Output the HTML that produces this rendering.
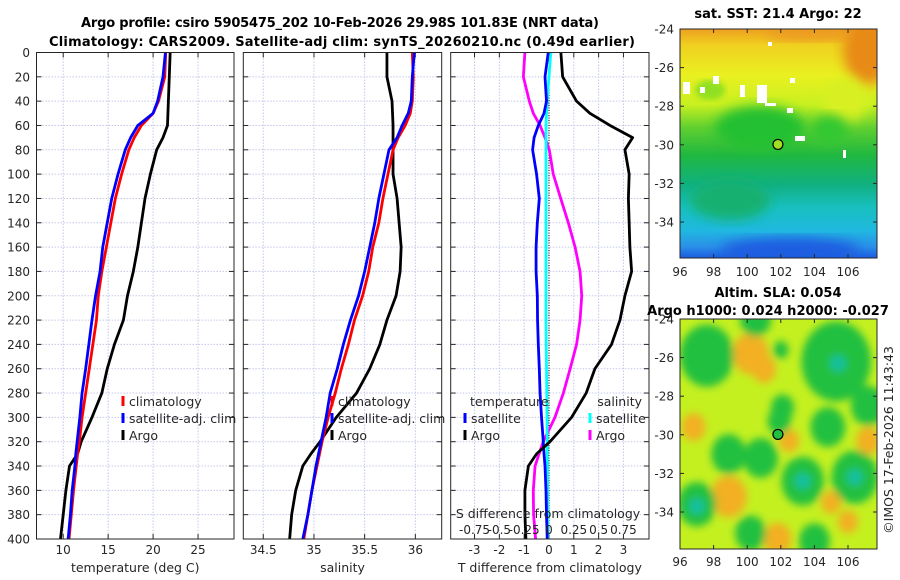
<!DOCTYPE html>
<html><head><meta charset="utf-8"><style>
html,body{margin:0;padding:0;background:#fff;}
svg{display:block;font-family:"DejaVu Sans","Liberation Sans",sans-serif;}
text{fill:#262626;}
</style></head><body>
<svg id="fig" width="900" height="580" viewBox="0 0 900 580" xmlns="http://www.w3.org/2000/svg">
<defs>
<filter id="blur6" x="-20%" y="-20%" width="140%" height="140%"><feGaussianBlur stdDeviation="6"/></filter>
<filter id="blur4" x="-20%" y="-20%" width="140%" height="140%"><feGaussianBlur stdDeviation="4"/></filter>
<filter id="blur3"><feGaussianBlur stdDeviation="3"/></filter>
<clipPath id="clipTop"><rect x="680" y="29" width="197" height="229"/></clipPath>
<clipPath id="clipBot"><rect x="680" y="319" width="197" height="230"/></clipPath>
<linearGradient id="sstGrad" x1="0" y1="0" x2="0" y2="1">
<stop offset="0" stop-color="#eea020"/>
<stop offset="0.07" stop-color="#f0d020"/>
<stop offset="0.2" stop-color="#eaf020"/>
<stop offset="0.33" stop-color="#c8f020"/>
<stop offset="0.43" stop-color="#60d030"/>
<stop offset="0.55" stop-color="#20b840"/>
<stop offset="0.68" stop-color="#10b080"/>
<stop offset="0.78" stop-color="#18c0c0"/>
<stop offset="0.88" stop-color="#20b8e0"/>
<stop offset="0.95" stop-color="#2a90e8"/>
<stop offset="1" stop-color="#1c5ce0"/>
</linearGradient>
</defs>
<g font-weight="bold" font-size="13">
<text x="340" y="27" text-anchor="middle" textLength="518" style="fill:#000">Argo profile: csiro 5905475_202 10-Feb-2026 29.98S 101.83E (NRT data)</text>
<text x="342" y="46" text-anchor="middle" textLength="586" style="fill:#000">Climatology: CARS2009. Satellite-adj clim: synTS_20260210.nc (0.49d earlier)</text>
</g>
<g id="panels"></g>
<g id="maps">
<text x="778" y="18" text-anchor="middle" font-weight="bold" font-size="13" style="fill:#000">sat. SST: 21.4 Argo: 22</text>
<g clip-path="url(#clipTop)">
<rect x="680" y="29" width="197" height="229" fill="url(#sstGrad)"/>
<ellipse cx="868" cy="50" rx="25" ry="35" fill="#e88a18" filter="url(#blur6)"/>
<ellipse cx="810" cy="33" rx="45" ry="7" fill="#ec9a20" filter="url(#blur6)"/>
<ellipse cx="845" cy="100" rx="22" ry="22" fill="#d8f020" filter="url(#blur6)"/>
<ellipse cx="760" cy="128" rx="45" ry="22" fill="#20c030" filter="url(#blur6)"/>
<ellipse cx="830" cy="130" rx="18" ry="15" fill="#30c830" filter="url(#blur6)"/>
<ellipse cx="710" cy="90" rx="15" ry="10" fill="#90e020" filter="url(#blur3)"/>
<ellipse cx="790" cy="250" rx="70" ry="12" fill="#1c5ce0" filter="url(#blur6)"/>
<ellipse cx="730" cy="200" rx="40" ry="20" fill="#18b070" filter="url(#blur6)"/>
<rect x="683" y="82" width="7" height="12" fill="#fff"/><rect x="700" y="87" width="5" height="6" fill="#fff"/>
<rect x="713" y="76" width="6" height="8" fill="#fff"/><rect x="740" y="85" width="5" height="12" fill="#fff"/>
<rect x="757" y="85" width="10" height="18" fill="#fff"/><rect x="765" y="103" width="11" height="3" fill="#fff"/>
<rect x="787" y="108" width="6" height="5" fill="#fff"/><rect x="795" y="136" width="10" height="5" fill="#fff"/>
<rect x="768" y="42" width="4" height="4" fill="#fff"/><rect x="790" y="78" width="5" height="5" fill="#fff"/>
<rect x="843" y="150" width="3" height="8" fill="#fff"/>
</g>
<rect x="680" y="29" width="197" height="229" fill="none" stroke="#262626" stroke-width="1"/>
<text x="778" y="297" text-anchor="middle" font-weight="bold" font-size="13" style="fill:#000">Altim. SLA: 0.054</text>
<text x="768" y="315" text-anchor="middle" font-weight="bold" font-size="13" style="fill:#000">Argo h1000: 0.024 h2000: -0.027</text>
<g clip-path="url(#clipBot)">
<rect x="680" y="319" width="197" height="230" fill="#c4f020"/>
<g id="slaBlobs" filter="url(#blur4)"></g>
</g>
<rect x="680" y="319" width="197" height="230" fill="none" stroke="#262626" stroke-width="1"/>
<g id="mapAxes"></g>
<text transform="translate(893,440) rotate(-90)" text-anchor="middle" font-size="12.5">©IMOS 17-Feb-2026 11:43:43</text>
</g>
</svg>
<script>
// ---- profile data (depth in m) ----
const depths = [0,20,40,50,60,70,80,100,120,140,160,180,200,220,240,260,280,300,320,330,340,360,380,400];
const tempClim = [21.4,21.3,20.6,20.0,18.7,17.9,17.3,16.5,15.8,15.3,14.8,14.3,13.9,13.7,13.3,12.9,12.5,12.1,11.8,11.6,11.45,11.15,10.9,10.65];
const tempSat  = [21.37,21.1,20.5,20.0,18.3,17.5,16.9,16.1,15.4,14.9,14.4,14.1,13.6,13.2,12.85,12.5,12.1,11.85,11.55,11.4,11.3,11.0,10.8,10.55];
const tempArgo = [21.9,21.8,21.7,21.65,21.6,21.1,20.4,19.7,19.1,18.7,18.3,17.8,17.15,16.7,15.7,14.9,14.3,13.2,12.0,11.6,10.7,10.3,10.0,9.7];
const salClim = [35.97,35.98,35.97,35.95,35.90,35.83,35.78,35.73,35.68,35.64,35.58,35.54,35.48,35.40,35.34,35.27,35.21,35.14,35.08,35.055,35.03,34.98,34.94,34.90];
const salSat  = [35.99,35.97,35.96,35.93,35.87,35.82,35.74,35.69,35.64,35.60,35.55,35.50,35.44,35.36,35.29,35.23,35.16,35.12,35.07,35.045,35.02,34.98,34.94,34.89];
const salArgo = [35.72,35.72,35.77,35.775,35.78,35.78,35.78,35.78,35.82,35.84,35.86,35.85,35.81,35.72,35.65,35.55,35.42,35.22,35.06,34.97,34.89,34.82,34.78,34.76];
const tDiffArgo = [0.48,0.55,1.11,1.65,2.46,3.37,3.06,3.23,3.2,3.23,3.26,3.33,3.06,2.86,2.52,1.85,1.5,0.91,0.04,-0.5,-0.83,-0.97,-0.97,-0.93];
const tDiffSat  = [-0.03,-0.16,-0.1,-0.2,-0.43,-0.6,-0.66,-0.5,-0.39,-0.47,-0.52,-0.52,-0.47,-0.46,-0.43,-0.39,-0.36,-0.3,-0.23,-0.2,-0.16,-0.12,-0.1,-0.07];
const sDiffArgo = [-0.243,-0.258,-0.198,-0.158,-0.09,-0.04,0.003,0.043,0.118,0.195,0.263,0.313,0.33,0.313,0.278,0.213,0.145,0.06,-0.058,-0.1,-0.14,-0.158,-0.155,-0.135];
const sDiffSat  = [0.018,0,-0.018,-0.025,-0.03,-0.03,-0.03,-0.03,-0.03,-0.03,-0.03,-0.03,-0.03,-0.03,-0.028,-0.025,-0.022,-0.02,-0.018,-0.018,-0.016,-0.015,-0.013,-0.012];
const depthTicks = [0,20,40,60,80,100,120,140,160,180,200,220,240,260,280,300,320,340,360,380,400];
const tempTicks = [10,15,20,25];
const salTicks = [34.5,35,35.5,36];
const tDiffTicks = [-3,-2,-1,0,1,2,3];
const sDiffTicks = [-0.75,-0.5,-0.25,0,0.25,0.5,0.75];
const sDiffTickLabels = ["-0.75","-0.5","-0.25","0","0.25","0.5","0.75"];
// ---- map data ----
const lonTicks = [96,98,100,102,104,106];
const latTicks = [-24,-26,-28,-30,-32,-34];
const floatLon = 101.83, floatLat = -29.98;
const slaGreenLon = [97.6,105.3,102.1,101.9,100.8,98.9,103.3,106.4,97.0,100.2,107.2,104.8,100.5,102.0,104.0];
const slaGreenLat = [-25.9,-26.2,-28.6,-29.3,-31.2,-31.0,-32.4,-32.2,-33.6,-35.1,-28.5,-29.6,-24.0,-25.6,-35.5];
const slaGreenR   = [1.4,1.8,0.6,0.6,0.9,0.9,1.1,1.2,1.0,0.8,0.9,0.9,0.8,0.4,0.8];
const slaOrangeLon = [100.2,98.9,101.8,107.2,96.8,102.5,101.0,106.0,105.0];
const slaOrangeLat = [-25.8,-33.2,-35.4,-30.3,-29.6,-30.3,-26.6,-34.5,-33.5];
const slaOrangeR   = [0.9,0.9,0.7,0.6,0.6,0.5,0.6,0.5,0.5];
const slaTealLon = [105.4,103.3,106.4,97.0];
const slaTealLat = [-26.3,-32.4,-32.2,-33.7];

const NS = "http://www.w3.org/2000/svg";
function mk(tag, attrs, parent){ const e=document.createElementNS(NS,tag); for(const k in attrs) e.setAttribute(k,attrs[k]); parent.appendChild(e); return e; }
const yTop = 52.5, yBot = 539;
function yD(d){ return yTop + d*(yBot-yTop)/400; }
function linScale(d0,d1,r0,r1){ return v => r0 + (v-d0)*(r1-r0)/(d1-d0); }

const panelsG = document.getElementById('panels');
const panels = [
  {name:'temperature', x0:36.5, x1:234, sc:linScale(7.03,29,36.5,234), ticks:tempTicks, labels:tempTicks.map(String), xlabel:'temperature (deg C)'},
  {name:'salinity', x0:243.3, x1:441.7, sc:linScale(34.303,36.26,243.3,441.7), ticks:salTicks, labels:salTicks.map(String), xlabel:'salinity'},
  {name:'difference', x0:450.7, x1:649, sc:linScale(-3.96,4.03,450.7,649), ticks:tDiffTicks, labels:tDiffTicks.map(String), xlabel:'T difference from climatology'}
];
panels.forEach((p,i)=>{
  const g = mk('g',{},panelsG);
  
  
  depthTicks.forEach(d=>{
    const l=mk('line',{x1:p.x0,x2:p.x1,y1:yD(d),y2:yD(d),stroke:'#c4c8e8','stroke-width':1,'stroke-dasharray':'1.5 1.5'},g);
    
    
  });
  p.ticks.forEach(t=>{
    const l=mk('line',{x1:p.sc(t),x2:p.sc(t),y1:yTop,y2:yBot,stroke:'#c4c8e8','stroke-width':1,'stroke-dasharray':'1.5 1.5'},g);
    
    
  });
  depthTicks.forEach(d=>{
    mk('line',{x1:p.x0,x2:p.x0+5,y1:yD(d),y2:yD(d),stroke:'#262626'},g);
    mk('line',{x1:p.x1-5,x2:p.x1,y1:yD(d),y2:yD(d),stroke:'#262626'},g);
  });
  p.ticks.forEach((t,k)=>{
    mk('line',{x1:p.sc(t),x2:p.sc(t),y1:yTop,y2:yTop+5,stroke:'#262626'},g);
    mk('line',{x1:p.sc(t),x2:p.sc(t),y1:yBot-5,y2:yBot,stroke:'#262626'},g);
    const tx=mk('text',{x:p.sc(t),y:554,'text-anchor':'middle','font-size':12},g);
    tx.textContent=p.labels[k];
    
    
  });
  const xl=mk('text',{x:(p.x0+p.x1)/2,y:572,'text-anchor':'middle','font-size':12.5},g);
  xl.textContent=p.xlabel;
  
  
  p.g=g;
});
depthTicks.forEach(d=>{
  const t=mk('text',{x:30,y:yD(d)+4.5,'text-anchor':'end','font-size':12},panelsG);
  t.textContent=String(d);
  
  
});
const zl=mk('line',{x1:panels[2].sc(0),x2:panels[2].sc(0),y1:yTop,y2:yBot,stroke:'#000','stroke-width':1,'stroke-dasharray':'1 1.5'},panels[2].g);



function series(panel, vals, color, name, xfun){
  const pts = vals.map((v,i)=> xfun(v).toFixed(2)+','+yD(depths[i]).toFixed(2)).join(' ');
  const pl = mk('polyline',{points:pts,fill:'none',stroke:color,'stroke-width':2.8,'stroke-linejoin':'round'},panel.g);
  
  
}
const P1=panels[0],P2=panels[1],P3=panels[2];
series(P1,tempArgo,'#000','temp-argo-line',P1.sc);
series(P1,tempClim,'#ff0000','temp-climatology-line',P1.sc);
series(P1,tempSat,'#0000ff','temp-satellite-line',P1.sc);
series(P2,salArgo,'#000','sal-argo-line',P2.sc);
series(P2,salClim,'#ff0000','sal-climatology-line',P2.sc);
series(P2,salSat,'#0000ff','sal-satellite-line',P2.sc);
const sdx = v => P3.sc(v*4);
series(P3,sDiffArgo,'#ff00ff','sdiff-argo-line',sdx);
series(P3,sDiffSat,'#00ffff','sdiff-satellite-line',sdx);
series(P3,tDiffSat,'#0000ff','tdiff-satellite-line',P3.sc);
series(P3,tDiffArgo,'#000','tdiff-argo-line',P3.sc);
const st=mk('text',{x:548,y:518,'text-anchor':'middle','font-size':12.5},P3.g);
st.textContent='S difference from climatology';


sDiffTicks.forEach((s,k)=>{
  const t=mk('text',{x:sdx(s),y:534,'text-anchor':'middle','font-size':12},P3.g);
  t.textContent=sDiffTickLabels[k];
  
  
});
panels.forEach(p=>{
  const r=mk('rect',{x:p.x0,y:yTop,width:p.x1-p.x0,height:yBot-yTop,fill:'none',stroke:'#262626','stroke-width':1},p.g);
  
  
});
function legendEntry(g,x,y,color,label){
  const m=mk('line',{x1:x,x2:x,y1:y-10,y2:y,stroke:color,'stroke-width':3},g);
  
  
  const t=mk('text',{x:x+6,y:y,'font-size':12.5},g);
  t.textContent=label;
  
  
}
legendEntry(P1.g,123,406,'#ff0000','climatology');
legendEntry(P1.g,123,423,'#0000ff','satellite-adj. clim');
legendEntry(P1.g,123,440,'#000','Argo');
legendEntry(P2.g,332,406,'#ff0000','climatology');
legendEntry(P2.g,332,423,'#0000ff','satellite-adj. clim');
legendEntry(P2.g,332,440,'#000','Argo');
const lt=mk('text',{x:470,y:406,'font-size':12.5},P3.g); lt.textContent='temperature';


const ls=mk('text',{x:642,y:406,'text-anchor':'end','font-size':12.5},P3.g); ls.textContent='salinity';


legendEntry(P3.g,465,423,'#0000ff','satellite');
legendEntry(P3.g,465,440,'#000','Argo');
legendEntry(P3.g,590,423,'#00ffff','satellite');
legendEntry(P3.g,590,440,'#ff00ff','Argo');

// ---- maps ----
const lonX = lon => 680 + (lon-96)*16.8;
const latYTop = lat => 29 + (-24-lat)*19.3;
const latYBot = lat => 319 + (-24-lat)*19.3;
const blobs=document.getElementById('slaBlobs');
slaOrangeLon.forEach((lo,i)=>{
  const e=mk('ellipse',{cx:lonX(lo),cy:latYBot(slaOrangeLat[i]),rx:slaOrangeR[i]*16.8*1.2,ry:slaOrangeR[i]*19.3*1.2,fill:'#f2b020'},blobs);
  
  
});
slaGreenLon.forEach((lo,i)=>{
  const e=mk('ellipse',{cx:lonX(lo),cy:latYBot(slaGreenLat[i]),rx:slaGreenR[i]*16.8*1.15,ry:slaGreenR[i]*19.3*1.15,fill:'#22c040'},blobs);
  
  
});
slaTealLon.forEach((lo,i)=>{
  const e=mk('ellipse',{cx:lonX(lo),cy:latYBot(slaTealLat[i]),rx:8,ry:8,fill:'#18c0a0'},blobs);
  
  
});
const ma=document.getElementById('mapAxes');
[[latYTop,29,258,270],[latYBot,319,549,560]].forEach(([ly,y0,y1,ty],mi)=>{
  latTicks.forEach(la=>{
    const y=ly(la);
    mk('line',{x1:680,x2:684,y1:y,y2:y,stroke:'#262626'},ma);
    mk('line',{x1:873,x2:877,y1:y,y2:y,stroke:'#262626'},ma);
    const t=mk('text',{x:674,y:y+4.5,'text-anchor':'end','font-size':12},ma);
    t.textContent=String(la);
    
    
  });
  lonTicks.forEach(lo=>{
    const x=lonX(lo);
    mk('line',{x1:x,x2:x,y1:y0,y2:y0+4,stroke:'#262626'},ma);
    mk('line',{x1:x,x2:x,y1:y1-4,y2:y1,stroke:'#262626'},ma);
    const t=mk('text',{x:x,y:ty+6,'text-anchor':'middle','font-size':12},ma);
    t.textContent=String(lo);
    
    
  });
  const c=mk('circle',{cx:lonX(floatLon),cy:ly(floatLat),r:5,fill:mi===0?'#a0e020':'#22c040',stroke:'#000','stroke-width':1.2},ma);
  
  
});
</script>
</body></html>
